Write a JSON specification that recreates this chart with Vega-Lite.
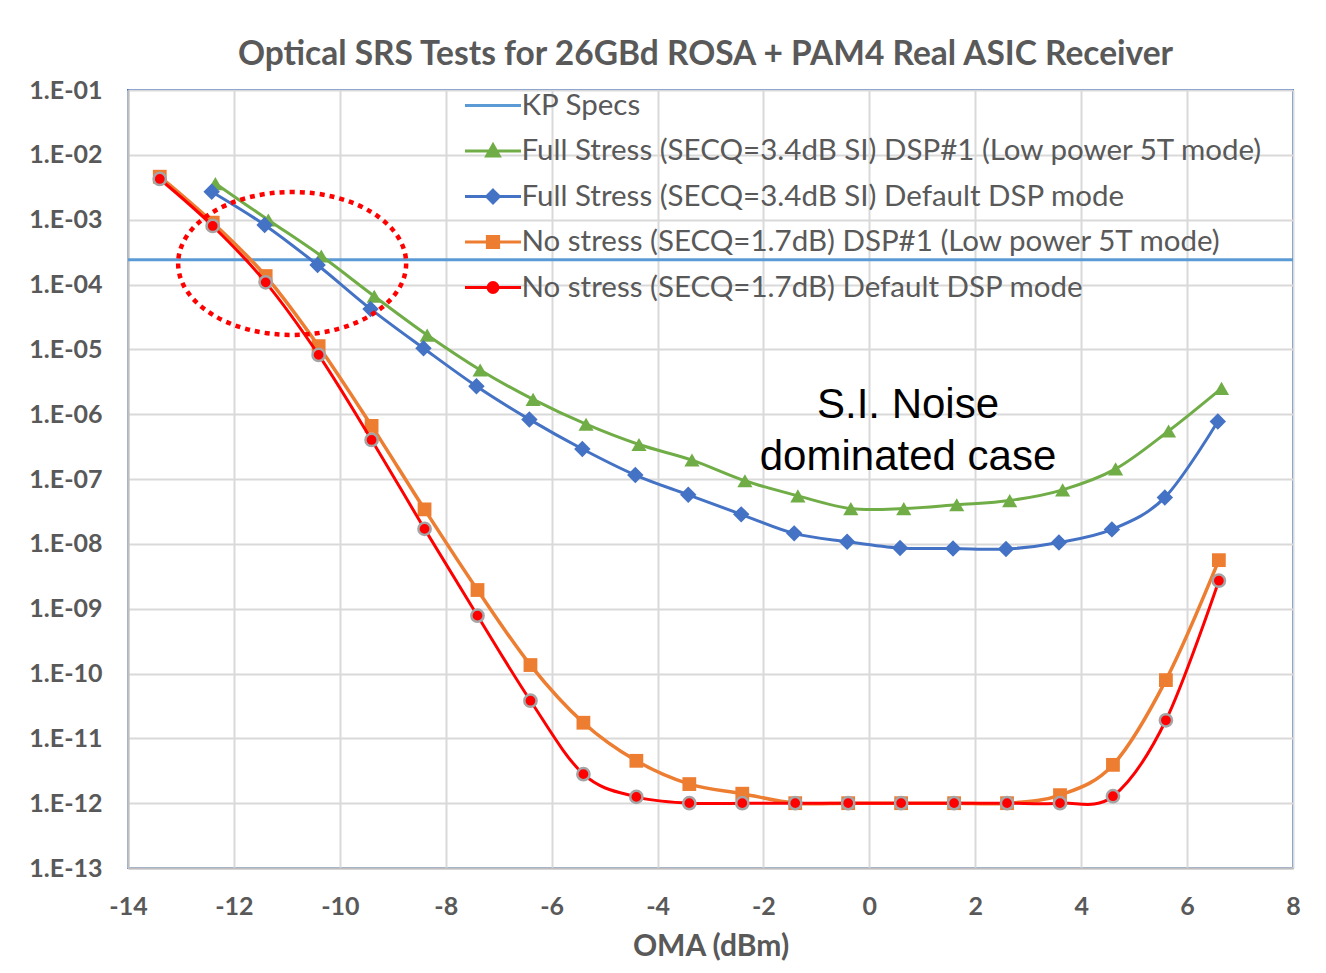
{
  "$schema": "https://vega.github.io/schema/vega-lite/v6.json",
  "width": 1165,
  "height": 778,
  "autosize": {"type": "none"},
  "padding": {"left": 128, "top": 90, "right": 33, "bottom": 105},
  "background": "white",
  "title": {
    "text": "Optical SRS Tests for 26GBd ROSA + PAM4 Real ASIC Receiver",
    "anchor": "middle",
    "frame": "group",
    "font": "Lato",
    "fontSize": 33.5,
    "fontWeight": "bold",
    "color": "#595959",
    "offset": 6,
    "dx": -5
  },
  "datasets": {
    "kp": [{"series": "KP Specs", "ber": 0.00024}],
    "curves": [
      {"series": "Full Stress (SECQ=3.4dB SI) DSP#1 (Low power 5T mode)", "oma": -12.35, "ber": 3.6e-3},
      {"series": "Full Stress (SECQ=3.4dB SI) DSP#1 (Low power 5T mode)", "oma": -11.35, "ber": 9.9e-4},
      {"series": "Full Stress (SECQ=3.4dB SI) DSP#1 (Low power 5T mode)", "oma": -10.35, "ber": 2.75e-4},
      {"series": "Full Stress (SECQ=3.4dB SI) DSP#1 (Low power 5T mode)", "oma": -9.35, "ber": 6.6e-5},
      {"series": "Full Stress (SECQ=3.4dB SI) DSP#1 (Low power 5T mode)", "oma": -8.35, "ber": 1.66e-5},
      {"series": "Full Stress (SECQ=3.4dB SI) DSP#1 (Low power 5T mode)", "oma": -7.35, "ber": 4.8e-6},
      {"series": "Full Stress (SECQ=3.4dB SI) DSP#1 (Low power 5T mode)", "oma": -6.35, "ber": 1.69e-6},
      {"series": "Full Stress (SECQ=3.4dB SI) DSP#1 (Low power 5T mode)", "oma": -5.35, "ber": 7.0e-7},
      {"series": "Full Stress (SECQ=3.4dB SI) DSP#1 (Low power 5T mode)", "oma": -4.35, "ber": 3.4e-7},
      {"series": "Full Stress (SECQ=3.4dB SI) DSP#1 (Low power 5T mode)", "oma": -3.35, "ber": 1.96e-7},
      {"series": "Full Stress (SECQ=3.4dB SI) DSP#1 (Low power 5T mode)", "oma": -2.35, "ber": 9.4e-8},
      {"series": "Full Stress (SECQ=3.4dB SI) DSP#1 (Low power 5T mode)", "oma": -1.35, "ber": 5.5e-8},
      {"series": "Full Stress (SECQ=3.4dB SI) DSP#1 (Low power 5T mode)", "oma": -0.35, "ber": 3.5e-8},
      {"series": "Full Stress (SECQ=3.4dB SI) DSP#1 (Low power 5T mode)", "oma": 0.65, "ber": 3.5e-8},
      {"series": "Full Stress (SECQ=3.4dB SI) DSP#1 (Low power 5T mode)", "oma": 1.65, "ber": 4.0e-8},
      {"series": "Full Stress (SECQ=3.4dB SI) DSP#1 (Low power 5T mode)", "oma": 2.65, "ber": 4.65e-8},
      {"series": "Full Stress (SECQ=3.4dB SI) DSP#1 (Low power 5T mode)", "oma": 3.65, "ber": 6.8e-8},
      {"series": "Full Stress (SECQ=3.4dB SI) DSP#1 (Low power 5T mode)", "oma": 4.65, "ber": 1.43e-7},
      {"series": "Full Stress (SECQ=3.4dB SI) DSP#1 (Low power 5T mode)", "oma": 5.65, "ber": 5.5e-7},
      {"series": "Full Stress (SECQ=3.4dB SI) DSP#1 (Low power 5T mode)", "oma": 6.65, "ber": 2.5e-6},
      {"series": "Full Stress (SECQ=3.4dB SI) Default DSP mode", "oma": -12.42, "ber": 2.7e-3},
      {"series": "Full Stress (SECQ=3.4dB SI) Default DSP mode", "oma": -11.42, "ber": 8.3e-4},
      {"series": "Full Stress (SECQ=3.4dB SI) Default DSP mode", "oma": -10.42, "ber": 2.0e-4},
      {"series": "Full Stress (SECQ=3.4dB SI) Default DSP mode", "oma": -9.42, "ber": 4.2e-5},
      {"series": "Full Stress (SECQ=3.4dB SI) Default DSP mode", "oma": -8.42, "ber": 1.04e-5},
      {"series": "Full Stress (SECQ=3.4dB SI) Default DSP mode", "oma": -7.42, "ber": 2.7e-6},
      {"series": "Full Stress (SECQ=3.4dB SI) Default DSP mode", "oma": -6.42, "ber": 8.3e-7},
      {"series": "Full Stress (SECQ=3.4dB SI) Default DSP mode", "oma": -5.42, "ber": 2.9e-7},
      {"series": "Full Stress (SECQ=3.4dB SI) Default DSP mode", "oma": -4.42, "ber": 1.15e-7},
      {"series": "Full Stress (SECQ=3.4dB SI) Default DSP mode", "oma": -3.42, "ber": 5.7e-8},
      {"series": "Full Stress (SECQ=3.4dB SI) Default DSP mode", "oma": -2.42, "ber": 2.85e-8},
      {"series": "Full Stress (SECQ=3.4dB SI) Default DSP mode", "oma": -1.42, "ber": 1.45e-8},
      {"series": "Full Stress (SECQ=3.4dB SI) Default DSP mode", "oma": -0.42, "ber": 1.08e-8},
      {"series": "Full Stress (SECQ=3.4dB SI) Default DSP mode", "oma": 0.58, "ber": 8.6e-9},
      {"series": "Full Stress (SECQ=3.4dB SI) Default DSP mode", "oma": 1.58, "ber": 8.5e-9},
      {"series": "Full Stress (SECQ=3.4dB SI) Default DSP mode", "oma": 2.58, "ber": 8.3e-9},
      {"series": "Full Stress (SECQ=3.4dB SI) Default DSP mode", "oma": 3.58, "ber": 1.05e-8},
      {"series": "Full Stress (SECQ=3.4dB SI) Default DSP mode", "oma": 4.58, "ber": 1.67e-8},
      {"series": "Full Stress (SECQ=3.4dB SI) Default DSP mode", "oma": 5.58, "ber": 5.2e-8},
      {"series": "Full Stress (SECQ=3.4dB SI) Default DSP mode", "oma": 6.58, "ber": 7.7e-7},
      {"series": "No stress (SECQ=1.7dB) DSP#1 (Low power 5T mode)", "oma": -13.4, "ber": 4.6e-3},
      {"series": "No stress (SECQ=1.7dB) DSP#1 (Low power 5T mode)", "oma": -12.4, "ber": 9.0e-4},
      {"series": "No stress (SECQ=1.7dB) DSP#1 (Low power 5T mode)", "oma": -11.4, "ber": 1.35e-4},
      {"series": "No stress (SECQ=1.7dB) DSP#1 (Low power 5T mode)", "oma": -10.4, "ber": 1.12e-5},
      {"series": "No stress (SECQ=1.7dB) DSP#1 (Low power 5T mode)", "oma": -9.4, "ber": 6.6e-7},
      {"series": "No stress (SECQ=1.7dB) DSP#1 (Low power 5T mode)", "oma": -8.4, "ber": 3.4e-8},
      {"series": "No stress (SECQ=1.7dB) DSP#1 (Low power 5T mode)", "oma": -7.4, "ber": 1.94e-9},
      {"series": "No stress (SECQ=1.7dB) DSP#1 (Low power 5T mode)", "oma": -6.4, "ber": 1.35e-10},
      {"series": "No stress (SECQ=1.7dB) DSP#1 (Low power 5T mode)", "oma": -5.4, "ber": 1.74e-11},
      {"series": "No stress (SECQ=1.7dB) DSP#1 (Low power 5T mode)", "oma": -4.4, "ber": 4.5e-12},
      {"series": "No stress (SECQ=1.7dB) DSP#1 (Low power 5T mode)", "oma": -3.4, "ber": 1.97e-12},
      {"series": "No stress (SECQ=1.7dB) DSP#1 (Low power 5T mode)", "oma": -2.4, "ber": 1.4e-12},
      {"series": "No stress (SECQ=1.7dB) DSP#1 (Low power 5T mode)", "oma": -1.4, "ber": 1e-12},
      {"series": "No stress (SECQ=1.7dB) DSP#1 (Low power 5T mode)", "oma": -0.4, "ber": 1e-12},
      {"series": "No stress (SECQ=1.7dB) DSP#1 (Low power 5T mode)", "oma": 0.6, "ber": 1e-12},
      {"series": "No stress (SECQ=1.7dB) DSP#1 (Low power 5T mode)", "oma": 1.6, "ber": 1e-12},
      {"series": "No stress (SECQ=1.7dB) DSP#1 (Low power 5T mode)", "oma": 2.6, "ber": 1e-12},
      {"series": "No stress (SECQ=1.7dB) DSP#1 (Low power 5T mode)", "oma": 3.6, "ber": 1.33e-12},
      {"series": "No stress (SECQ=1.7dB) DSP#1 (Low power 5T mode)", "oma": 4.6, "ber": 3.9e-12},
      {"series": "No stress (SECQ=1.7dB) DSP#1 (Low power 5T mode)", "oma": 5.6, "ber": 7.9e-11},
      {"series": "No stress (SECQ=1.7dB) DSP#1 (Low power 5T mode)", "oma": 6.6, "ber": 5.6e-9},
      {"series": "No stress (SECQ=1.7dB) Default DSP mode", "oma": -13.4, "ber": 4.24e-3},
      {"series": "No stress (SECQ=1.7dB) Default DSP mode", "oma": -12.4, "ber": 8.0e-4},
      {"series": "No stress (SECQ=1.7dB) Default DSP mode", "oma": -11.4, "ber": 1.08e-4},
      {"series": "No stress (SECQ=1.7dB) Default DSP mode", "oma": -10.4, "ber": 8.2e-6},
      {"series": "No stress (SECQ=1.7dB) Default DSP mode", "oma": -9.4, "ber": 4.0e-7},
      {"series": "No stress (SECQ=1.7dB) Default DSP mode", "oma": -8.4, "ber": 1.7e-8},
      {"series": "No stress (SECQ=1.7dB) Default DSP mode", "oma": -7.4, "ber": 7.8e-10},
      {"series": "No stress (SECQ=1.7dB) Default DSP mode", "oma": -6.4, "ber": 3.8e-11},
      {"series": "No stress (SECQ=1.7dB) Default DSP mode", "oma": -5.4, "ber": 2.8e-12},
      {"series": "No stress (SECQ=1.7dB) Default DSP mode", "oma": -4.4, "ber": 1.25e-12},
      {"series": "No stress (SECQ=1.7dB) Default DSP mode", "oma": -3.4, "ber": 1e-12},
      {"series": "No stress (SECQ=1.7dB) Default DSP mode", "oma": -2.4, "ber": 1e-12},
      {"series": "No stress (SECQ=1.7dB) Default DSP mode", "oma": -1.4, "ber": 1e-12},
      {"series": "No stress (SECQ=1.7dB) Default DSP mode", "oma": -0.4, "ber": 1e-12},
      {"series": "No stress (SECQ=1.7dB) Default DSP mode", "oma": 0.6, "ber": 1e-12},
      {"series": "No stress (SECQ=1.7dB) Default DSP mode", "oma": 1.6, "ber": 1e-12},
      {"series": "No stress (SECQ=1.7dB) Default DSP mode", "oma": 2.6, "ber": 1e-12},
      {"series": "No stress (SECQ=1.7dB) Default DSP mode", "oma": 3.6, "ber": 1e-12},
      {"series": "No stress (SECQ=1.7dB) Default DSP mode", "oma": 4.6, "ber": 1.28e-12},
      {"series": "No stress (SECQ=1.7dB) Default DSP mode", "oma": 5.6, "ber": 1.9e-11},
      {"series": "No stress (SECQ=1.7dB) Default DSP mode", "oma": 6.6, "ber": 2.7e-9}
    ],
    "notes": [
      {"kind": "ellipse", "label": "", "oma": -10.9, "ber": 2.11e-4},
      {"kind": "text", "label": "S.I. Noise\ndominated case", "oma": 0.73, "ber": 1.38e-6}
    ]
  },
  "layer": [
    {
      "data": {"name": "kp"},
      "mark": {"type": "rule", "color": "#5B9BD5", "strokeWidth": 3},
      "encoding": {
        "y": {"field": "ber", "type": "quantitative", "title": null}
      }
    },
    {
      "data": {"name": "curves"},
      "encoding": {
        "x": {
          "field": "oma",
          "type": "quantitative",
          "title": "OMA (dBm)",
          "scale": {"domain": [-14, 8], "nice": false, "zero": false},
          "axis": {
            "values": [-14, -12, -10, -8, -6, -4, -2, 0, 2, 4, 6, 8],
            "labelExpr": "'' + datum.value",
            "title": "OMA (dBm)",
            "labelPadding": 26,
            "titlePadding": 12
          }
        },
        "y": {
          "field": "ber",
          "type": "quantitative",
          "scale": {"type": "log", "domain": [1e-13, 0.1], "nice": false},
          "axis": {
            "values": [1e-13, 1e-12, 1e-11, 1e-10, 1e-9, 1e-8, 1e-7, 1e-6, 1e-5, 1e-4, 1e-3, 1e-2, 1e-1],
            "labelExpr": "'1.E-' + (round(-log(datum.value)/LN10) < 10 ? '0' : '') + round(-log(datum.value)/LN10)",
            "title": null,
            "labelPadding": 26
          }
        }
      },
      "layer": [
        {
          "transform": [{"filter": "datum.series == 'Full Stress (SECQ=3.4dB SI) DSP#1 (Low power 5T mode)'"}],
          "mark": {
            "type": "line", "color": "#70AD47", "strokeWidth": 3, "interpolate": "cardinal",
            "point": {"shape": "triangle-up", "size": 230, "filled": true, "fill": "#70AD47", "stroke": "#70AD47", "strokeWidth": 0, "opacity": 1}
          }
        },
        {
          "transform": [{"filter": "datum.series == 'Full Stress (SECQ=3.4dB SI) Default DSP mode'"}],
          "mark": {
            "type": "line", "color": "#4472C4", "strokeWidth": 3, "interpolate": "cardinal",
            "point": {"shape": "diamond", "size": 270, "filled": true, "fill": "#4472C4", "stroke": "#4472C4", "strokeWidth": 0, "opacity": 1}
          }
        },
        {
          "transform": [{"filter": "datum.series == 'No stress (SECQ=1.7dB) DSP#1 (Low power 5T mode)'"}],
          "mark": {
            "type": "line", "color": "#ED7D31", "strokeWidth": 3.5, "interpolate": "cardinal",
            "point": {"shape": "square", "size": 190, "filled": true, "fill": "#ED7D31", "stroke": "#ED7D31", "strokeWidth": 0, "opacity": 1}
          }
        },
        {
          "transform": [{"filter": "datum.series == 'No stress (SECQ=1.7dB) Default DSP mode'"}],
          "mark": {
            "type": "line", "color": "#FF0000", "strokeWidth": 3, "interpolate": "cardinal",
            "point": {"shape": "circle", "size": 150, "filled": true, "fill": "#FF0000", "stroke": "#A5A5A5", "strokeWidth": 2.5, "opacity": 1}
          }
        }
      ]
    },
    {
      "data": {"name": "notes"},
      "transform": [{"filter": "datum.kind == 'ellipse'"}],
      "mark": {
        "type": "point",
        "shape": "M -1 0 A 1 0.627 0 1 0 1 0 A 1 0.627 0 1 0 -1 0 Z",
        "size": 51984,
        "filled": false,
        "fill": null,
        "stroke": "#FF0000",
        "strokeWidth": 4.5,
        "strokeDash": [5, 5],
        "opacity": 1
      },
      "encoding": {
        "x": {"field": "oma", "type": "quantitative", "title": "OMA (dBm)"},
        "y": {"field": "ber", "type": "quantitative", "title": null}
      }
    },
    {
      "data": {"name": "notes"},
      "transform": [{"filter": "datum.kind == 'text'"}],
      "mark": {
        "type": "text",
        "font": "Liberation Sans",
        "fontSize": 42,
        "lineHeight": 52,
        "lineBreak": "\n",
        "align": "center",
        "baseline": "middle",
        "color": "#000000"
      },
      "encoding": {
        "x": {"field": "oma", "type": "quantitative", "title": "OMA (dBm)"},
        "y": {"field": "ber", "type": "quantitative", "title": null},
        "text": {"field": "label", "type": "nominal"}
      }
    },
    {
      "data": {"name": "curves"},
      "transform": [{"filter": "datum.ber < 0"}],
      "mark": {"type": "point", "filled": true, "opacity": 1},
      "encoding": {
        "fill": {
          "field": "series",
          "type": "nominal",
          "scale": {
            "domain": ["KP Specs", "Full Stress (SECQ=3.4dB SI) DSP#1 (Low power 5T mode)", "Full Stress (SECQ=3.4dB SI) Default DSP mode", "No stress (SECQ=1.7dB) DSP#1 (Low power 5T mode)", "No stress (SECQ=1.7dB) Default DSP mode"],
            "range": ["#5B9BD5", "#70AD47", "#4472C4", "#ED7D31", "#FF0000"]
          },
          "legend": {"orient": "none", "legendX": 349.5, "legendY": 0, "title": null}
        },
        "stroke": {
          "field": "series",
          "type": "nominal",
          "scale": {
            "domain": ["KP Specs", "Full Stress (SECQ=3.4dB SI) DSP#1 (Low power 5T mode)", "Full Stress (SECQ=3.4dB SI) Default DSP mode", "No stress (SECQ=1.7dB) DSP#1 (Low power 5T mode)", "No stress (SECQ=1.7dB) Default DSP mode"],
            "range": ["#5B9BD5", "#70AD47", "#4472C4", "#ED7D31", "#FF0000"]
          },
          "legend": {"orient": "none", "legendX": 349.5, "legendY": 0, "title": null}
        },
        "shape": {
          "field": "series",
          "type": "nominal",
          "scale": {
            "domain": ["KP Specs", "Full Stress (SECQ=3.4dB SI) DSP#1 (Low power 5T mode)", "Full Stress (SECQ=3.4dB SI) Default DSP mode", "No stress (SECQ=1.7dB) DSP#1 (Low power 5T mode)", "No stress (SECQ=1.7dB) Default DSP mode"],
            "range": [
              "M -2 0 L 2 0",
              "M -2 0 L 2 0 M 0 -0.45 L 0.45 0.35 L -0.45 0.35 Z",
              "M -2 0 L 2 0 M 0 -0.45 L 0.45 0 L 0 0.45 L -0.45 0 Z",
              "M -2 0 L 2 0 M -0.4 -0.4 L 0.4 -0.4 L 0.4 0.4 L -0.4 0.4 Z",
              "M -2 0 L 2 0 M -0.35 0 A 0.35 0.35 0 1 0 0.35 0 A 0.35 0.35 0 1 0 -0.35 0 Z"
            ]
          },
          "legend": {"orient": "none", "legendX": 349.5, "legendY": 0, "title": null}
        }
      }
    }
  ],
  "config": {
    "view": {"stroke": "#4472C4", "strokeWidth": 2},
    "axis": {
      "grid": true,
      "gridColor": "#D9D9D9",
      "gridWidth": 2,
      "domainColor": "#BFBFBF",
      "domainWidth": 2,
      "ticks": false,
      "labelFont": "Lato",
      "labelFontSize": 25,
      "labelFontWeight": "bold",
      "labelColor": "#595959",
      "titleFont": "Lato",
      "titleFontSize": 30,
      "titleFontWeight": "bold",
      "titleColor": "#595959",
      "labelOverlap": false,
      "labelFlush": false
    },
    "legend": {
      "orient": "none",
      "padding": 0,
      "symbolSize": 784,
      "symbolStrokeWidth": 3,
      "labelFont": "Lato",
      "labelFontSize": 29.5,
      "labelColor": "#595959",
      "labelOffset": 13,
      "labelLimit": 2000,
      "rowPadding": 15.5
    }
  }
}
